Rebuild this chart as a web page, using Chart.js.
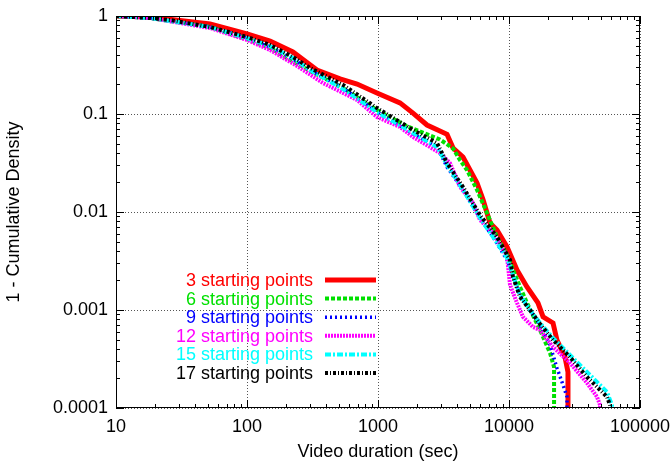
<!DOCTYPE html>
<html>
<head>
<meta charset="utf-8">
<script src="https://cdn.jsdelivr.net/npm/chart.js@4.4.0/dist/chart.umd.min.js"></script>
<style>
  html, body { margin: 0; padding: 0; background: #fff; }
  #wrap { width: 671px; height: 464px; }
</style>
</head>
<body>
<div id="wrap"><canvas id="ccdfChart" width="671" height="464"></canvas></div>
<script>
// series labels
const seriesNames = ['3 starting points', '6 starting points', '9 starting points',
                     '12 starting points', '15 starting points', '17 starting points'];

// video duration (sec) / 1 - CDF
const dur3  = [10, 18.2, 52.2, 100, 150, 224, 342, 513, 692, 982, 1472, 1850, 2366, 3365, 3740, 4455, 5035, 5700, 6340, 7160, 8095, 9660, 11510, 13720, 16640, 18200, 21680, 23230, 26750, 28200, 28200];
const ccdf3 = [1, 0.977, 0.829, 0.655, 0.556, 0.429, 0.281, 0.228, 0.202, 0.164, 0.13, 0.102, 0.0772, 0.062, 0.045, 0.0364, 0.0268, 0.0198, 0.0133, 0.00773, 0.00655, 0.0044, 0.00256, 0.00172, 0.00118, 0.00085, 0.000737, 0.000494, 0.000331, 0.000233, 0.00009];

const dur6  = [10, 18.2, 52.2, 70.4, 100, 150, 213, 303, 541, 982, 1664, 2972, 3740, 4227, 4778, 5700, 6790, 8095, 9660, 12130, 13720, 17250, 20560, 22080, 22080];
const ccdf6 = [1, 0.954, 0.772, 0.671, 0.582, 0.472, 0.356, 0.275, 0.184, 0.110, 0.075, 0.055, 0.0445, 0.0339, 0.0268, 0.0168, 0.00977, 0.00556, 0.00364, 0.00172, 0.00118, 0.000625, 0.000364, 0.000262, 0.00009];

const dur9  = [10, 18.2, 52.2, 100, 150, 224, 303, 541, 982, 1850, 2820, 3365, 4455, 6010, 7820, 9660, 12130, 14460, 17250, 20560, 23230, 25840, 27730, 27730];
const ccdf9 = [1, 0.954, 0.772, 0.596, 0.483, 0.364, 0.281, 0.184, 0.105, 0.0625, 0.0461, 0.0288, 0.0168, 0.00869, 0.00518, 0.00324, 0.00142, 0.001, 0.000703, 0.000439, 0.000256, 0.000172, 0.00013, 0.00009];

const dur12  = [10, 18.2, 52.2, 100, 150, 241, 380, 541, 692, 982, 1472, 1850, 2972, 3545, 4227, 5310, 6010, 7550, 9660, 10180, 11510, 12790, 15250, 17250, 21680, 29220, 39400, 46950, 49550, 49550];
const ccdf12 = [1, 0.954, 0.754, 0.569, 0.450, 0.309, 0.207, 0.164, 0.139, 0.0932, 0.0737, 0.0583, 0.040, 0.0316, 0.018, 0.0124, 0.00828, 0.00611, 0.00348, 0.0018, 0.00118, 0.00085, 0.00067, 0.000625, 0.000419, 0.000288, 0.00018, 0.00013, 0.000107, 0.00009];

const dur15  = [10, 18.2, 52.2, 100, 150, 224, 303, 541, 982, 1850, 2820, 3365, 4455, 6010, 7820, 9660, 12130, 14460, 17250, 21680, 27730, 39400, 55990, 61100, 61100];
const ccdf15 = [1, 0.954, 0.772, 0.596, 0.494, 0.373, 0.281, 0.180, 0.105, 0.064, 0.0461, 0.0302, 0.0168, 0.00869, 0.00518, 0.0034, 0.00142, 0.001, 0.000737, 0.000518, 0.000373, 0.000233, 0.000146, 0.000107, 0.00009];

const dur17  = [10, 18.2, 25.8, 52.2, 100, 150, 224, 303, 541, 982, 1850, 2820, 3365, 4455, 6010, 8095, 10180, 10730, 12130, 14460, 17250, 21680, 29220, 39400, 55990, 59020, 59020];
const ccdf17 = [1, 0.954, 0.910, 0.772, 0.610, 0.506, 0.382, 0.295, 0.198, 0.115, 0.0687, 0.0506, 0.0316, 0.018, 0.00931, 0.00556, 0.00324, 0.00217, 0.00136, 0.001, 0.00072, 0.000494, 0.000331, 0.000207, 0.00013, 0.000107, 0.00009];

// axis ticks
const xMajorTicks = [10, 100, 1000, 10000, 100000];
const xTickLabels = ['10', '100', '1000', '10000', '100000'];
const yMajorTicks = [0.0001, 0.001, 0.01, 0.1, 1];
const yTickLabels = ['0.0001', '0.001', '0.01', '0.1', '1'];

// looks (gnuplot style)
const seriesX = [dur3, dur6, dur9, dur12, dur15, dur17];
const seriesY = [ccdf3, ccdf6, ccdf9, ccdf12, ccdf15, ccdf17];
const seriesColors = ['#ff0000', '#00e000', '#0000ff', '#ff00ff', '#00ffff', '#000000'];
const seriesWidths = [5, 4, 3.5, 4, 4, 4];
const seriesDashes = [[], [4, 2], [2, 3], [2, 1], [6, 2, 2, 2], [3, 2, 1, 2]];

const FONT = '"Liberation Sans", Arial, Helvetica, sans-serif';

function isMajor(v) {
    const l = Math.log10(v);
    return Math.abs(l - Math.round(l)) < 1e-6;
}

function allTicks(majors) {
    const out = [];
    for (let i = 0; i < majors.length - 1; i++) {
        for (let m = 1; m <= 9; m++) out.push(majors[i] * m);
    }
    out.push(majors[majors.length - 1]);
    return out;
}

function labelFor(value, majors, labels) {
    for (let i = 0; i < majors.length; i++) {
        if (Math.abs(majors[i] - value) / majors[i] < 1e-6) return labels[i];
    }
    return '';
}

// border, inward ticks on all four sides
const frameTicks = {
    id: 'frameTicks',
    afterDatasetsDraw(chart) {
        const { ctx, chartArea: a, scales: { x, y } } = chart;
        ctx.save();
        ctx.strokeStyle = '#000';
        ctx.lineWidth = 1;
        ctx.setLineDash([]);
        ctx.beginPath();
        x.ticks.forEach(t => {
            const px = Math.round(x.getPixelForValue(t.value)) + 0.5;
            const len = isMajor(t.value) ? 8 : 4;
            ctx.moveTo(px, a.bottom); ctx.lineTo(px, a.bottom - len);
            ctx.moveTo(px, a.top); ctx.lineTo(px, a.top + len);
        });
        y.ticks.forEach(t => {
            const py = Math.round(y.getPixelForValue(t.value)) + 0.5;
            const len = isMajor(t.value) ? 8 : 4;
            ctx.moveTo(a.left, py); ctx.lineTo(a.left + len, py);
            ctx.moveTo(a.right, py); ctx.lineTo(a.right - len, py);
        });
        ctx.stroke();
        ctx.strokeRect(a.left + 0.5, a.top + 0.5, a.right - a.left - 1, a.bottom - a.top - 1);
        ctx.restore();
    }
};

// key inside the plot: right aligned text, sample line to the right
const keyBox = {
    id: 'keyBox',
    afterDatasetsDraw(chart) {
        const ctx = chart.ctx;
        ctx.save();
        ctx.font = '18px ' + FONT;
        ctx.textAlign = 'right';
        ctx.textBaseline = 'middle';
        chart.data.datasets.forEach((ds, i) => {
            const yy = 280 + i * 18.6;
            ctx.fillStyle = ds.borderColor;
            ctx.fillText(ds.label, 313, yy + 1);
            ctx.strokeStyle = ds.borderColor;
            ctx.lineWidth = ds.borderWidth;
            ctx.setLineDash(ds.borderDash);
            ctx.beginPath();
            ctx.moveTo(325, yy);
            ctx.lineTo(376, yy);
            ctx.stroke();
        });
        ctx.restore();
    }
};

Chart.defaults.font.family = FONT;
Chart.defaults.font.size = 18;
Chart.defaults.color = '#000';

const ctx = document.getElementById('ccdfChart').getContext('2d');

new Chart(ctx, {
    type: 'line',
    data: {
        datasets: seriesNames.map((name, i) => ({
            label: name,
            data: seriesX[i].map((v, j) => ({ x: v, y: seriesY[i][j] })),
            borderColor: seriesColors[i],
            backgroundColor: seriesColors[i],
            borderWidth: seriesWidths[i],
            borderDash: seriesDashes[i],
            pointRadius: 0,
            tension: 0,
            fill: false,
            clip: 0,
            order: seriesNames.length - i
        }))
    },
    options: {
        responsive: false,
        animation: false,
        devicePixelRatio: 1,
        layout: { padding: { top: 16, right: 31, left: 0, bottom: 0 } },
        plugins: {
            legend: { display: false },
            tooltip: { enabled: false }
        },
        scales: {
            x: {
                type: 'logarithmic',
                min: 10,
                max: 100000,
                afterFit: s => { s.height = 56; s.paddingLeft = 0; s.paddingRight = 0; },
                afterBuildTicks: s => { s.ticks = allTicks(xMajorTicks).map(v => ({ value: v })); },
                ticks: {
                    autoSkip: false,
                    maxRotation: 0,
                    padding: 8,
                    callback: v => labelFor(v, xMajorTicks, xTickLabels)
                },
                grid: {
                    drawTicks: false,
                    lineWidth: 1,
                    color: c => (c.tick && isMajor(c.tick.value)) ? '#555' : 'rgba(0,0,0,0)'
                },
                border: { display: false, dash: [1, 2] },
                title: {
                    display: true,
                    text: 'Video duration (sec)',
                    padding: { top: 1, bottom: 1 }
                }
            },
            y: {
                type: 'logarithmic',
                min: 0.0001,
                max: 1,
                afterFit: s => { s.width = 116; s.paddingTop = 0; s.paddingBottom = 0; },
                afterBuildTicks: s => { s.ticks = allTicks(yMajorTicks).map(v => ({ value: v })); },
                ticks: {
                    autoSkip: false,
                    padding: 8,
                    callback: v => labelFor(v, yMajorTicks, yTickLabels)
                },
                grid: {
                    drawTicks: false,
                    lineWidth: 1,
                    color: c => (c.tick && isMajor(c.tick.value)) ? '#555' : 'rgba(0,0,0,0)'
                },
                border: { display: false, dash: [1, 2] },
                title: {
                    display: true,
                    text: '1 - Cumulative Density',
                    padding: { top: 3, bottom: 3 }
                }
            }
        }
    },
    plugins: [frameTicks, keyBox]
});
</script>
</body>
</html>
